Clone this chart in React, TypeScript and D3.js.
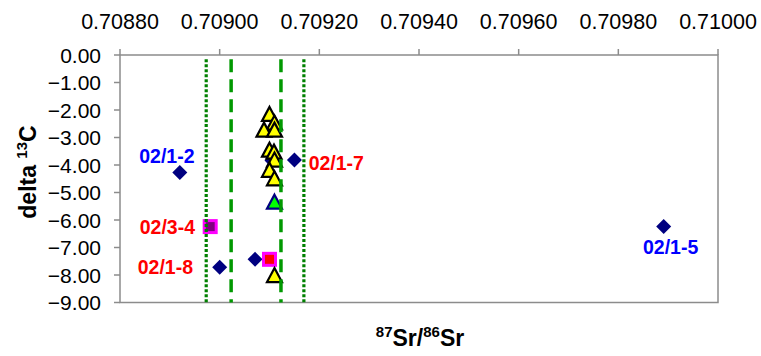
import React from "react";
import * as d3 from "d3";

// tick values
const xTicks = [0.7088, 0.709, 0.7092, 0.7094, 0.7096, 0.7098, 0.71];
const yTicks = [0, -1, -2, -3, -4, -5, -6, -7, -8, -9];

// navy diamonds
const diamondX = [0.70892, 0.709, 0.709071, 0.70915, 0.709891, 0.709105];
const diamondY = [-4.27, -7.72, -7.43, -3.82, -6.24, -3.84];

// squares
const squareX = [0.708981, 0.7091];
const squareY = [-6.24, -7.43];
const squareFill = ["#800080", "#ff0000"];

// yellow triangles
const triX = [0.7091, 0.70911, 0.709089, 0.70911, 0.7091, 0.709109, 0.70911, 0.7091, 0.70911, 0.70911];
const triY = [-2.18, -2.49, -2.75, -2.75, -3.48, -3.55, -3.84, -4.21, -4.52, -8.04];

// green triangle
const greenX = [0.70911];
const greenY = [-5.37];

// reference lines
const dottedX = [0.708973, 0.709169];
const dashedX = [0.709023, 0.709123];
const lineTop = -0.15;
const lineBottom = -9;

// sample labels
const labelText = ["02/1-2", "02/1-7", "02/3-4", "02/1-8", "02/1-5"];
const labelColor = ["#0000ff", "#ff0000", "#ff0000", "#ff0000", "#0000ff"];
const labelX = [0.708894, 0.709234, 0.708895, 0.708891, 0.709905];
const labelY = [-3.67, -3.93, -6.24, -7.7, -6.97];

const font = "'Liberation Sans', Arial, sans-serif";

export default function App() {
  const left = 120, right = 718, top = 55, bottom = 302.5;
  const x = d3.scaleLinear().domain([0.7088, 0.71]).range([left, right]);
  const y = d3.scaleLinear().domain([0, -9]).range([top, bottom]);
  const axisColor = "#8c8c8c";

  const diamond = (cx: number, cy: number) =>
    `M${cx},${cy - 7.5}L${cx + 7.5},${cy}L${cx},${cy + 7.5}L${cx - 7.5},${cy}Z`;
  const tri = (cx: number, cy: number) =>
    `M${cx},${cy - 8}L${cx + 7.5},${cy + 6}L${cx - 7.5},${cy + 6}Z`;

  return (
    <svg width={761} height={356} style={{ position: "absolute", left: 0, top: 0 }}>
      <rect width={761} height={356} fill="#fff" />
      {/* frame */}
      <rect x={left} y={top} width={right - left} height={bottom - top} fill="none" stroke={axisColor} strokeWidth={1.5} />
      {xTicks.map((t, i) => (
        <g key={"xt" + i}>
          <line x1={x(t)} x2={x(t)} y1={top - 6} y2={top} stroke={axisColor} strokeWidth={1.5} />
          <text x={x(t)} y={29} textAnchor="middle" fontFamily={font} fontSize={21.5} fill="#000">
            {d3.format(".5f")(t)}
          </text>
        </g>
      ))}
      {yTicks.map((t, i) => (
        <g key={"yt" + i}>
          <line x1={left - 6} x2={left} y1={y(t)} y2={y(t)} stroke={axisColor} strokeWidth={1.5} />
          <text x={101} y={y(t)} dy="0.36em" textAnchor="end" fontFamily={font} fontSize={21} fill="#000">
            {d3.format(".2f")(t)}
          </text>
        </g>
      ))}
      {/* markers */}
      {diamondX.map((v, i) => (
        <path key={"d" + i} d={diamond(x(v), y(diamondY[i]))} fill="#000080" />
      ))}
      {squareX.map((v, i) => (
        <rect key={"s" + i} x={x(v) - 6} y={y(squareY[i]) - 6} width={12} height={12}
          fill={squareFill[i]} stroke="#ff00ff" strokeWidth={3} />
      ))}
      {triX.map((v, i) => (
        <path key={"t" + i} d={tri(x(v), y(triY[i]))} fill="#ffff00" stroke="#000" strokeWidth={2.2} />
      ))}
      {greenX.map((v, i) => (
        <path key={"g" + i} d={tri(x(v), y(greenY[i]))} fill="#00ff00" stroke="#000080" strokeWidth={2.2} />
      ))}
      {/* reference lines */}
      {dottedX.map((v, i) => (
        <line key={"dl" + i} x1={x(v)} x2={x(v)} y1={y(lineTop)} y2={y(lineBottom)}
          stroke="#008000" strokeWidth={3.2} strokeDasharray="3 2" />
      ))}
      {dashedX.map((v, i) => (
        <line key={"da" + i} x1={x(v)} x2={x(v)} y1={y(lineTop)} y2={y(lineBottom)}
          stroke="#009900" strokeWidth={3.5} strokeDasharray="13 7" />
      ))}
      {/* labels */}
      {labelText.map((t, i) => (
        <text key={"l" + i} x={x(labelX[i])} y={y(labelY[i])} dy="0.36em" textAnchor="middle"
          fontFamily={font} fontWeight="bold" fontSize={19.5} fill={labelColor[i]}>
          {t}
        </text>
      ))}
      {/* axis titles */}
      <text transform="translate(36,172) rotate(-90)" textAnchor="middle" fontFamily={font} fontWeight="bold" fontSize={23}>
        delta <tspan fontSize={15} dy={-9}>13</tspan><tspan dy={9}>C</tspan>
      </text>
      <text x={420} y={346} textAnchor="middle" fontFamily={font} fontWeight="bold" fontSize={23}>
        <tspan fontSize={15} dy={-9}>87</tspan><tspan dy={9}>Sr/</tspan><tspan fontSize={15} dy={-9}>86</tspan><tspan dy={9}>Sr</tspan>
      </text>
    </svg>
  );
}
